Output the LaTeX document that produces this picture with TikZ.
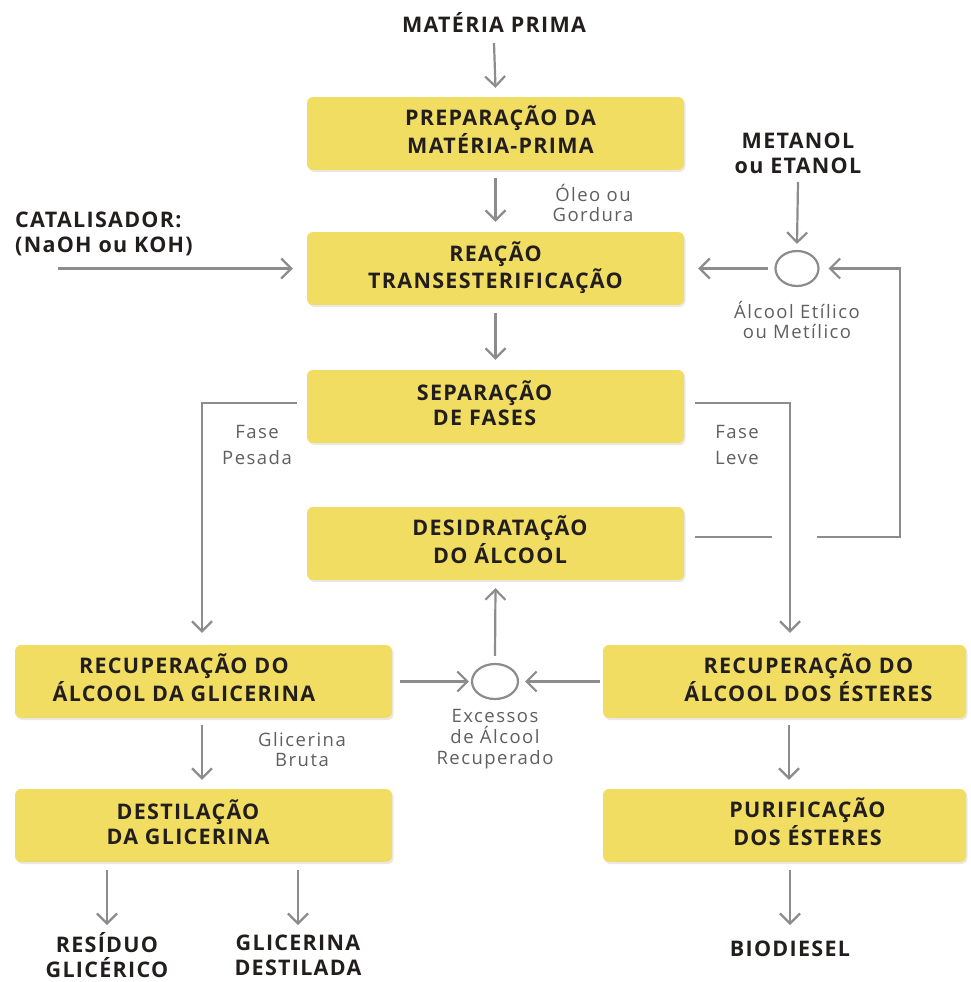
\documentclass[tikz,border=0pt]{standalone}
\usepackage{fontspec}
\setmainfont{Open Sans}
\newfontfamily\ttlfont[LetterSpace=6]{Open Sans}
\newfontfamily\lblfont[LetterSpace=8]{Open Sans}
\usetikzlibrary{arrows.meta,shapes.geometric,shadows,calc}
\definecolor{boxy}{RGB}{241,221,98}
\definecolor{lineg}{RGB}{140,140,140}
\definecolor{ttl}{RGB}{35,30,30}
\definecolor{lbl}{RGB}{95,95,95}
\newcommand{\twol}[3]{\hspace*{#1}\begin{tabular}{@{}c@{}}#2\\#3\end{tabular}}
\begin{document}
\begin{tikzpicture}[x=1pt,y=-1pt,
  stage/.style={rectangle, rounded corners=6pt, fill=boxy, minimum width=377pt, minimum height=73pt, inner sep=0pt, text=ttl, font=\ttlfont\bfseries\fontsize{21.5}{25}\selectfont, drop shadow={shadow xshift=1.5pt,shadow yshift=-2pt,opacity=0.18}},
  ttlnode/.style={inner sep=0pt, text=ttl, align=center, font=\ttlfont\bfseries\fontsize{21.5}{25}\selectfont},
  lblnode/.style={inner sep=0pt, text=lbl, align=center, font=\lblfont\fontsize{18.5}{20}\selectfont},
  flow/.style={draw=lineg, line width=2.2pt, -{Straight Barb[length=10pt,width=20pt]}},
  plain/.style={draw=lineg, line width=2.2pt},
  junction/.style={ellipse, draw=lineg, line width=2.2pt, fill=white, inner sep=0pt}
]
\useasboundingbox (0,0) rectangle (970,982);

% stages
\node[stage] (prep) at (495.5,133.5) {\twol{10pt}{PREPARAÇÃO DA}{MATÉRIA-PRIMA}};
\node[stage] (reac) at (495.5,268.5) {\twol{0pt}{REAÇÃO}{TRANSESTERIFICAÇÃO}};
\node[stage] (sep) at (495.5,406.5) {\twol{-22pt}{SEPARAÇÃO}{DE FASES}};
\node[stage] (desid) at (495.5,543.5) {\twol{9pt}{DESIDRATAÇÃO}{DO ÁLCOOL}};
\node[stage] (rg) at (203.5,681.5) {\twol{-39pt}{RECUPERAÇÃO DO}{ÁLCOOL DA GLICERINA}};
\node[stage, minimum width=363pt] (re) at (784.5,681.5) {\twol{48pt}{RECUPERAÇÃO DO}{ÁLCOOL DOS ÉSTERES}};
\node[stage] (dest) at (203.5,825.5) {\twol{-31pt}{DESTILAÇÃO}{DA GLICERINA}};
\node[stage, minimum width=363pt] (pur) at (784.5,825.5) {\twol{46pt}{PURIFICAÇÃO}{DOS ÉSTERES}};

% text nodes
\node[ttlnode] (mp) at (494,22) {MATÉRIA PRIMA};
\node[ttlnode, anchor=west, align=left] (cat) at (15,234) {CATALISADOR:\\(NaOH ou KOH)};
\node[ttlnode] (met) at (798,153.5) {METANOL\\ou ETANOL};
\node[junction, minimum width=43pt, minimum height=35pt] (c1) at (797,268.5) {};
\node[lblnode] (oleo) at (593,203) {Óleo ou\\Gordura};
\node[lblnode] (etil) at (797,320) {Álcool Etílico\\ou Metílico};
\node[lblnode, font=\lblfont\fontsize{18.5}{26}\selectfont] (pes) at (257,445) {Fase\\Pesada};
\node[lblnode, font=\lblfont\fontsize{18.5}{26}\selectfont] (lev) at (737,445) {Fase\\Leve};
\node[junction, minimum width=46pt, minimum height=35pt] (c2) at (495,681.5) {};
\node[lblnode, font=\lblfont\fontsize{18.5}{21}\selectfont] (exc) at (495,739) {Excessos\\de Álcool\\Recuperado};
\node[lblnode] (bru) at (302,750) {Glicerina\\Bruta};
\node[ttlnode] (res) at (107,955) {RESÍDUO\\GLICÉRICO};
\node[ttlnode] (gli) at (298,955) {GLICERINA\\DESTILADA};
\node[ttlnode] (bio) at (790,949) {BIODIESEL};

% connectors
\draw[flow] ([yshift=-21pt]mp.center) -- ([yshift=9pt]prep.north);
\draw[flow] ([yshift=-8pt]prep.south) -- ([yshift=10pt]reac.north);
\coordinate (catin) at (58,268.5);
\draw[flow] (catin) -- ([xshift=-14pt]reac.west);
\draw[flow] ([yshift=-28.5pt]met.center) -- ([yshift=6pt]c1.north);
\draw[flow] ([xshift=-6pt]c1.west) -- ([xshift=14pt]reac.east);
\coordinate (hopL) at (772,537);
\coordinate (hopR) at (817,537);
\coordinate (ret) at (900,537);
\draw[plain] ([xshift=11pt,yshift=6.5pt]desid.east) -- (hopL);
\draw[flow] (hopR) -- (ret) |- ([xshift=9pt]c1.east);
\draw[flow] ([yshift=-8pt]reac.south) -- ([yshift=10pt]sep.north);
\draw[flow] ([xshift=-10pt,yshift=3.5pt]sep.west) -| ([xshift=-1.5pt,yshift=12pt]rg.north);
\draw[flow] ([xshift=11pt,yshift=3.5pt]sep.east) -| ([xshift=5.5pt,yshift=12pt]re.north);
\draw[flow] ([xshift=8pt]rg.east) -- ([xshift=-2pt]c2.west);
\draw[flow] ([xshift=-3pt]re.west) -- ([xshift=6pt]c2.east);
\draw[flow] ([yshift=7pt]c2.north) -- ([yshift=-8pt]desid.south);
\draw[flow] ([xshift=-1.5pt,yshift=-7pt]rg.south) -- ([xshift=-1.5pt,yshift=9pt]dest.north);
\draw[flow] ([xshift=4.5pt,yshift=-7pt]re.south) -- ([xshift=4.5pt,yshift=9pt]pur.north);
\draw[flow] ($(dest.south -| res.center)+(0,8)$) -- ($(res.center)+(0,-30)$);
\draw[flow] ($(dest.south -| gli.center)+(0,8)$) -- ($(gli.center)+(0,-30)$);
\draw[flow] ($(pur.south -| bio.center)+(0,8)$) -- ($(bio.center)+(0,-24)$);
\end{tikzpicture}
\end{document}
